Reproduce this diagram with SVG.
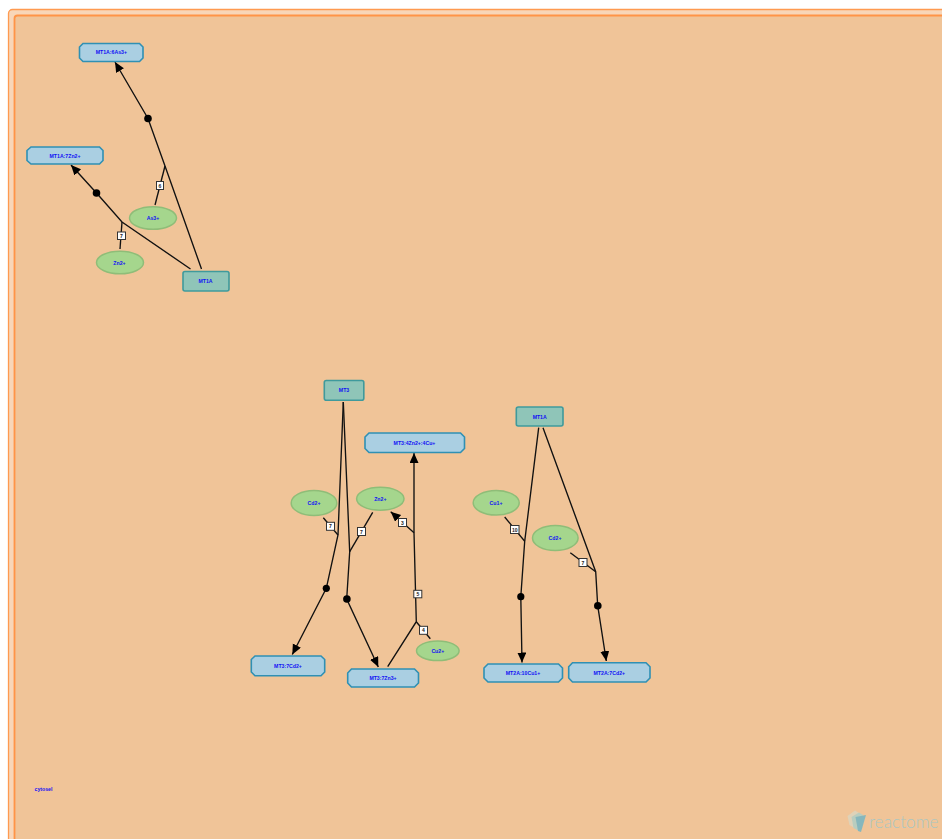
<svg xmlns="http://www.w3.org/2000/svg" width="942" height="839" viewBox="0 0 942 839">
<style>
text{font-family:"Liberation Sans",Arial,sans-serif;font-weight:700;font-size:5.2px;fill:#1010f5;text-anchor:middle;dominant-baseline:central}
.cx polygon{fill:#aacfe2;stroke:#2f90b4;stroke-width:1.6}
.pr{fill:#8fc5b8;stroke:#3f9a9c;stroke-width:1.6}
.ch{fill:#a5d68d;stroke:#8fbd78;stroke-width:1.5}
.e{fill:none;stroke:#111;stroke-width:1.35}
.a{marker-end:url(#arrow)}
.d{fill:#000}
.s{fill:#fff;stroke:#333;stroke-width:1}
.st{font-size:5px;fill:#222}
</style>
<defs>
<marker id="arrow" markerUnits="userSpaceOnUse" markerWidth="11" markerHeight="10" refX="10" refY="4.500" orient="auto">
<path d="M0,0L10,4.500L0,9Z" fill="#000"/>
</marker>
</defs>
<rect x="8.500" y="9.500" width="960" height="860" rx="4" fill="#f8d6b8" stroke="#ff9a50" stroke-width="1.300"/>
<rect x="14.500" y="15.500" width="960" height="860" rx="3" fill="#f0c498" stroke="#ff9447" stroke-width="1.800"/>
<g id="connectors">
<path class="e a" d="M201.500 269L165 166L148 118.500L115 62"/>
<path class="e a" d="M190.500 269L122 222L96.500 193L71 165"/>
<path class="e" d="M155 205L165 166"/>
<path class="e" d="M120 249L122 222"/>
<path class="e a" d="M343.300 402L338 535L326.300 588.300L292.300 654.500"/>
<path class="e a" d="M343.300 402L349.700 551.700L346.700 599L378.300 667"/>
<path class="e" d="M323.300 517.700L338 535"/>
<path class="e" d="M372.700 512.300L349.700 551.700"/>
<path class="e a" d="M387.700 666.700L416.300 621.700L414 532.700L414 453"/>
<path class="e a" d="M414 532.700L390.700 511.700"/>
<path class="e" d="M430.300 638.700L416.300 621.700"/>
<path class="e a" d="M538.700 427.700L524.700 541.300L520.800 596.700L522 662.500"/>
<path class="e a" d="M543 427.700L595.700 571.700L597.700 605.700L606.300 661"/>
<path class="e" d="M504.700 517L524.700 541.300"/>
<path class="e" d="M570.300 552.700L595.700 571.700"/>
<circle class="d" cx="148" cy="118.500" r="3.800"/>
<circle class="d" cx="96.500" cy="193" r="3.800"/>
<circle class="d" cx="326.300" cy="588.300" r="3.600"/>
<circle class="d" cx="346.900" cy="599" r="3.800"/>
<circle class="d" cx="520.800" cy="596.700" r="3.600"/>
<circle class="d" cx="597.800" cy="605.700" r="3.800"/>
<g id="stoichiometry">
<rect class="s" x="156.500" y="181.500" width="7" height="8"/><text class="st" x="160" y="185.500">6</text>
<rect class="s" x="117.500" y="232" width="8" height="7.500"/><text class="st" x="121.500" y="235.800">7</text>
<rect class="s" x="326.500" y="522.300" width="8" height="8"/><text class="st" x="330.500" y="526.300">7</text>
<rect class="s" x="357.500" y="527.500" width="8" height="8"/><text class="st" x="361.500" y="531.500">7</text>
<rect class="s" x="398.500" y="518.500" width="8" height="8"/><text class="st" x="402.500" y="522.500">3</text>
<rect class="s" x="413.800" y="590.300" width="8" height="7.500"/><text class="st" x="417.800" y="594">5</text>
<rect class="s" x="419.500" y="626.300" width="8" height="8"/><text class="st" x="423.500" y="630.300">4</text>
<rect class="s" x="510.500" y="525.500" width="8.500" height="8"/><text class="st" x="514.700" y="529.500">10</text>
<rect class="s" x="579" y="558.500" width="8" height="8"/><text class="st" x="583" y="562.500">7</text>
</g>
</g>
<g id="n1" class="cx"><polygon points="83,43.500 139.500,43.500 143,47 143,58 139.500,61.500 83,61.500 79.500,58 79.500,47"/><text x="111.300" y="52.300">MT1A:6As3+</text></g>
<g id="n2" class="cx"><polygon points="31,147 99.500,147 103,150.500 103,160.500 99.500,164 31,164 27,160.500 27,150.500"/><text x="65" y="155.500">MT1A:7Zn2+</text></g>
<g id="n3"><ellipse class="ch" cx="153" cy="218" rx="23.500" ry="11.300"/><text x="153" y="218">As3+</text></g>
<g id="n4"><ellipse class="ch" cx="120" cy="262.500" rx="23.500" ry="11.300"/><text x="119.500" y="262.500">Zn2+</text></g>
<g id="n5"><rect class="pr" x="183" y="271.500" width="46" height="19.500" rx="2"/><text x="205.500" y="281.300">MT1A</text></g>
<g id="n6"><rect class="pr" x="324.300" y="380.500" width="39.500" height="19.700" rx="2"/><text x="344" y="390.300">MT3</text></g>
<g id="n7" class="cx"><polygon points="369,433 460.500,433 464.500,437 464.500,448.500 460.500,452.500 369,452.500 365,448.500 365,437"/><text x="414.500" y="442.800">MT3:4Zn2+:4Cu+</text></g>
<g id="n8"><ellipse class="ch" cx="314" cy="503" rx="22.800" ry="12.500"/><text x="314" y="503">Cd2+</text></g>
<g id="n9"><ellipse class="ch" cx="380.300" cy="498.700" rx="23.700" ry="11.500"/><text x="380.300" y="498.700">Zn2+</text></g>
<g id="n10"><ellipse class="ch" cx="437.800" cy="650.800" rx="21.300" ry="9.800"/><text x="437.800" y="651">Cu2+</text></g>
<g id="n11" class="cx"><polygon points="255,656 321,656 324.700,659.500 324.700,672 321,675.700 255,675.700 251.300,672 251.300,659.500"/><text x="288" y="665.800">MT3:7Cd2+</text></g>
<g id="n12" class="cx"><polygon points="351.500,669 414.500,669 418.500,673 418.500,683 414.500,687 351.500,687 347.700,683 347.700,673"/><text x="383" y="678.300">MT3:7Zn3+</text></g>
<g id="n13"><rect class="pr" x="516.300" y="407" width="46.700" height="19" rx="2"/><text x="539.700" y="416.500">MT1A</text></g>
<g id="n14"><ellipse class="ch" cx="496.200" cy="502.800" rx="23" ry="12.300"/><text x="496" y="503">Cu1+</text></g>
<g id="n15"><ellipse class="ch" cx="555.300" cy="538" rx="22.800" ry="12.500"/><text x="555" y="538">Cd2+</text></g>
<g id="n16" class="cx"><polygon points="488,664 558.500,664 562.500,668 562.500,678 558.500,682 488,682 484,678 484,668"/><text x="523" y="673.300">MT2A:10Cu1+</text></g>
<g id="n17" class="cx"><polygon points="572.500,662.800 646,662.800 650,666.800 650,678 646,682 572.500,682 568.700,678 568.700,666.800"/><text x="609.300" y="672.500">MT2A:7Cd2+</text></g>
<text id="compartment-label" x="43.500" y="789">cytosel</text>
<g id="logo">
<polygon points="847.500,816 855,810.500 859,813 856,829 849.500,825" fill="#dfd2b8"/>
<polygon points="851.500,817 859,812.500 863,815 859,831 853.500,828" fill="#b9cdbf"/>
<polygon points="855.500,817 866,815 861,832 858,831" fill="#86b7bd"/>
<text x="869" y="827.500" style="font-family:Lato,'Liberation Sans',sans-serif;font-weight:300;font-size:17.300px;fill:#a9c6c2;text-anchor:start;dominant-baseline:auto">reactome</text>
</g>
</svg>
